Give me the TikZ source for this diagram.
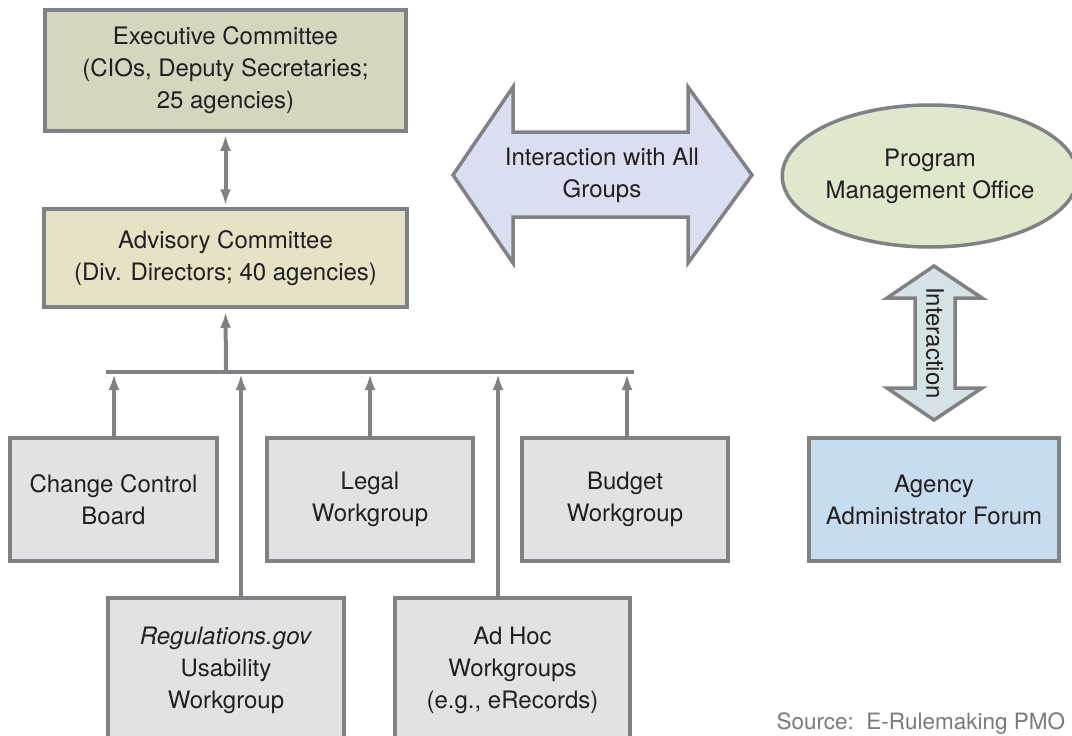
\documentclass[tikz,border=0pt]{standalone}
\usepackage{fontspec}
\setmainfont{TeX Gyre Heros}
\usetikzlibrary{arrows.meta,shapes.geometric}
\tikzset{>={Latex[length=16pt,width=11pt]}}
\definecolor{edgegray}{HTML}{808184}
\definecolor{ink}{HTML}{231F20}
\definecolor{srcgray}{HTML}{7A7A7A}
\definecolor{execfill}{HTML}{D5D6BD}
\definecolor{advfill}{HTML}{E6E2C5}
\definecolor{wgfill}{HTML}{E1E2E4}
\definecolor{allfill}{HTML}{D9DFF0}
\definecolor{pmofill}{HTML}{DFE7CD}
\definecolor{iactfill}{HTML}{D5E3E6}
\definecolor{agyfill}{HTML}{C7DCEE}

\begin{document}
\begin{tikzpicture}[x=1pt,y=-1pt,
	box/.style={draw=edgegray,line width=3.5pt,text=ink,align=center,inner sep=0pt,font=\fontsize{24}{32}\selectfont},
	wg/.style={box,fill=wgfill,minimum height=123pt},
	link/.style={draw=edgegray,line width=4pt},
	bigarrow/.style={draw=edgegray,line width=3.5pt,line join=miter}]
	\useasboundingbox (0,0) rectangle (1072,736);

	% committees
	\node[box,fill=execfill,minimum width=361pt,minimum height=121pt] (exec) at (225.5,70.5) {Executive Committee\\(CIOs, Deputy Secretaries;\\25 agencies)};
	\node[box,fill=advfill,minimum width=363pt,minimum height=98pt] (adv) at (225.5,258) {Advisory Committee\\(Div. Directors; 40 agencies)};
	\draw[link,<->,shorten <=2pt,shorten >=2pt] (exec.south) -- (adv.north);

	% workgroups
	\node[wg,minimum width=207pt] (ccb) at (113.5,499.5) {Change Control\\Board};
	\node[wg,minimum width=206pt] (legal) at (370,499.5) {Legal\\Workgroup};
	\node[wg,minimum width=206pt] (budget) at (625,499.5) {Budget\\Workgroup};
	\node[wg,minimum width=236pt,minimum height=144pt] (reg) at (226,670) {\textit{Regulations.gov}\\Usability\\Workgroup};
	\node[wg,minimum width=235pt,minimum height=144pt] (adhoc) at (512.5,670) {Ad Hoc\\Workgroups\\(e.g., eRecords)};

	% bus
	\coordinate (busl) at (106,372);
	\coordinate (busr) at (634,372);
	\coordinate (hub) at (226,372);
	\draw[link] (busl) -- (busr);
	\draw[link,->,shorten >=3pt] (hub) -- (adv.south);
	\foreach \n/\x [count=\i] in {ccb/114,reg/241,legal/370,adhoc/498,budget/627} {
		\coordinate (tap\i) at (\x,374);
		\draw[link,->] (\n.north -| tap\i) -- (tap\i);
	}

	% interaction with all groups
	\draw[bigarrow,fill=allfill] (453,175) -- (513,87) -- (513,132) -- (688,132) -- (688,87) -- (752,175)
		-- (688,263) -- (688,217) -- (513,217) -- (513,263) -- cycle;
	\node[text=ink,align=center,font=\fontsize{24}{32}\selectfont] (allgrp) at (602,175) {Interaction with All\\Groups};

	% program management office
	\node[box,ellipse,fill=pmofill,minimum width=282pt,minimum height=142pt] (pmo) at (930,176) {Program\\Management Office};
	\draw[bigarrow,fill=iactfill] (934,266) -- (982,298) -- (955,298) -- (955,388) -- (982,388) -- (934,420)
		-- (887,388) -- (915,388) -- (915,298) -- (887,298) -- cycle;
	\node[rotate=-90,text=ink,font=\fontsize{24}{32}\selectfont] (iact) at (935,343) {Interaction};
	\node[box,fill=agyfill,minimum width=250pt,minimum height=123pt] (agy) at (934,499.5) {Agency\\Administrator Forum};

	\node[anchor=base west,text=srcgray,font=\fontsize{22.5}{27}\selectfont] (src) at (773,729) {Source:\ \ E-Rulemaking PMO};
\end{tikzpicture}
\end{document}
